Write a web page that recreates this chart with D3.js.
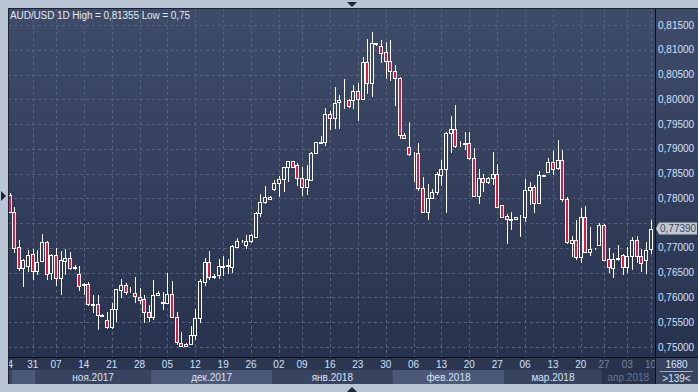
<!DOCTYPE html>
<html><head><meta charset="utf-8">
<script src="https://cdnjs.cloudflare.com/ajax/libs/d3/7.8.5/d3.min.js"></script>
<style>html,body{margin:0;padding:0;background:#b9c5d5;}svg{display:block;}</style>
</head><body>
<script>
const open  = [.7807,.7773,.7702,.7659,.7663,.7687,.7654,.7674,.7712,.7650,.7685,.7640,.7674,.7679,.7661,.7647,.7625,.7628,.7586,.7586,.7564,.7554,.7541,.7576,.7616,.7625,.7616,.7608,.7601,.7596,.7571,.7561,.7605,.7589,.7589,.7607,.7560,.7508,.7502,.7507,.7525,.7558,.7631,.7671,.7642,.7645,.7663,.7664,.7662,.7702,.7714,.7706,.7714,.7722,.7771,.7792,.7799,.7819,.7831,.7839,.7863,.7875,.7867,.7842,.7822,.7837,.7891,.7913,.7914,.7970,.7962,.7994,.7997,.7999,.7999,.8017,.8000,.8075,.8032,.8111,.8108,.8095,.8078,.8058,.8044,.7928,.7903,.7891,.7891,.7820,.7773,.7800,.7813,.7847,.7859,.7931,.7940,.7909,.7911,.7911,.7881,.7805,.7842,.7833,.7842,.7850,.7786,.7764,.7758,.7758,.7763,.7763,.7817,.7823,.7790,.7847,.7854,.7874,.7861,.7877,.7798,.7710,.7717,.7681,.7763,.7691,.7697,.7706,.7746,.7677,.7660,.7678,.7685,.7661,.7683,.7716,.7683,.7675,.7697];
const high  = [.7811,.7783,.7717,.7677,.7696,.7697,.7696,.7728,.7714,.7687,.7699,.7694,.7697,.7692,.7665,.7663,.7629,.7631,.7605,.7605,.7566,.7571,.7588,.7618,.7637,.7629,.7621,.7642,.7619,.7605,.7584,.7636,.7613,.7611,.7650,.7633,.7570,.7530,.7508,.7542,.7576,.7637,.7679,.7693,.7648,.7677,.7684,.7677,.7706,.7720,.7716,.7726,.7729,.7773,.7809,.7825,.7805,.7837,.7845,.7864,.7876,.7876,.7871,.7864,.7867,.7893,.7914,.7926,.7982,.7977,.8025,.8009,.8040,.8001,.8029,.8032,.8086,.8122,.81355,.8114,.8120,.8115,.8120,.8069,.8046,.7931,.7955,.7894,.7912,.7844,.7829,.7818,.7854,.7877,.7934,.7966,.7988,.7916,.7935,.7934,.7902,.7859,.7850,.7844,.7894,.7869,.7787,.7768,.7773,.7763,.7766,.7840,.7834,.7828,.7856,.7848,.7881,.7898,.7917,.7898,.7803,.7724,.7756,.7780,.7784,.7743,.7699,.7751,.7749,.7699,.7689,.7706,.7687,.7702,.7722,.7724,.7697,.7712,.7756];
const low   = [.7770,.7689,.7654,.7621,.7652,.7635,.7645,.7672,.7636,.7636,.7623,.7605,.7645,.7655,.7655,.7613,.7605,.7582,.7569,.7534,.7560,.7537,.7537,.7551,.7599,.7605,.7609,.7589,.7586,.7549,.7551,.7555,.7604,.7574,.7588,.7558,.7504,.7500,.7501,.7504,.7514,.7549,.7623,.7635,.7637,.7637,.7644,.7648,.7650,.7699,.7709,.7697,.7710,.7720,.7763,.7788,.7797,.7815,.7803,.7813,.7833,.7861,.7825,.7805,.7807,.7835,.7890,.7911,.7906,.7938,.7941,.7941,.7980,.7982,.7980,.7957,.7999,.8011,.8005,.8108,.8074,.8041,.8036,.7986,.7920,.7919,.7885,.7833,.7815,.7772,.7756,.7798,.7807,.7825,.7771,.7891,.7901,.7904,.7897,.7877,.7803,.7788,.7812,.7830,.7827,.7782,.7760,.7708,.7736,.7756,.7722,.7753,.7786,.7771,.7788,.7845,.7851,.7847,.7857,.7793,.7708,.7682,.7675,.7670,.7689,.7684,.7696,.7704,.7674,.7650,.7640,.7674,.7645,.7650,.7655,.7670,.7652,.7648,.7687];
const close = [.7773,.7699,.7659,.7675,.7685,.7654,.7672,.7712,.7648,.7685,.7640,.7675,.7679,.7659,.7660,.7623,.7627,.7586,.7585,.7564,.7563,.7541,.7576,.7617,.7625,.7611,.7615,.7603,.7594,.7571,.7561,.7605,.7608,.7590,.7606,.7560,.7510,.7503,.7506,.7525,.7558,.7633,.7671,.7642,.7643,.7663,.7662,.7665,.7704,.7714,.7713,.7714,.7726,.7771,.7792,.7802,.7803,.7832,.7840,.7863,.7875,.7864,.7842,.7822,.7839,.7891,.7913,.7912,.7970,.7962,.7993,.7999,.7996,.7986,.8017,.8000,.8075,.8032,.8113,.8113,.8094,.8078,.8058,.8044,.7928,.7922,.7889,.7892,.7820,.7773,.7800,.7812,.7849,.7859,.7931,.7940,.7906,.7910,.7910,.7881,.7805,.7842,.7833,.7842,.7850,.7783,.7763,.7758,.7757,.7762,.7762,.7817,.7823,.7790,.7847,.7846,.7874,.7859,.7877,.7798,.7712,.7717,.7681,.7763,.7691,.7697,.7698,.7746,.7675,.7662,.7677,.7679,.7661,.7683,.7716,.7683,.7670,.7696,.7739];

const weekIdx    = [-1,5,10,16,22,28,34,40,46,52,58,63,69,75,81,87,93,99,105,111,117,123,128,133,138];
const weekLabels = ["24","31","07","14","21","28","05","12","19","26","02","09","16","23","30","06","13","20","27","06","13","20","27","03","10"];
const monthStart  = [0.5,5.5,30.5,56.5,82.5,106.5,127.5];
const monthLabels = ["","ноя.2017","дек.2017","янв.2018","фев.2018","мар.2018","апр.2018"];
const priceTicks = [0.750,0.755,0.760,0.765,0.770,0.775,0.780,0.785,0.790,0.795,0.800,0.805,0.810,0.815];
const titleText = "AUD/USD 1D High = 0,81355 Low = 0,75";
const lastPrice = 0.7739;
const barCountText = ">139<";
const zoomText = "1680";

const W = 698, H = 392;
const L = 8, T = 8, R = 655, B = 357;
const FONT = "Liberation Sans, Arial, sans-serif";
const svg = d3.select("body").append("svg").attr("width", W).attr("height", H);
const defs = svg.append("defs");
const g1 = defs.append("linearGradient").attr("id","bg").attr("gradientUnits","userSpaceOnUse")
  .attr("x1",0).attr("y1",T).attr("x2",0).attr("y2",B);
g1.append("stop").attr("offset","0%").attr("stop-color","#3f4c69");
g1.append("stop").attr("offset","100%").attr("stop-color","#27324e");
defs.append("clipPath").attr("id","plotclip").append("rect").attr("x",L+1).attr("y",T+1).attr("width",R-L-1).attr("height",B-T-1);
defs.append("clipPath").attr("id","dateclip").append("rect").attr("x",L+1).attr("y",B).attr("width",R-L-1).attr("height",30);

const x = d3.scaleLinear().domain([0, 138]).range([9.5, 650.5]);
const y = d3.scaleLinear().domain([0.75, 0.815]).range([347, 25]);
const fmt = v => d3.format(".5f")(v).replace(".", ",");
const ly = y(lastPrice);

svg.append("rect").attr("width",W).attr("height",H).attr("fill","#b9c5d5");
svg.append("rect").attr("x",L).attr("y",T).attr("width",W-L).attr("height",B-T).attr("fill","url(#bg)");
svg.append("rect").attr("x",L).attr("y",B).attr("width",W-L).attr("height",13).attr("fill","#2b3651");
svg.append("rect").attr("x",L).attr("y",B+13).attr("width",W-L).attr("height",14).attr("fill","#38445f");

// grid
const grid = svg.append("g").attr("clip-path","url(#plotclip)").attr("stroke","#56637f").attr("stroke-dasharray","3,3").attr("shape-rendering","crispEdges");
grid.selectAll("line.h").data(priceTicks).join("line").attr("class","h")
  .attr("x1",L).attr("x2",R).attr("y1",d=>Math.round(y(d))+0.5).attr("y2",d=>Math.round(y(d))+0.5);
grid.selectAll("line.v").data(weekIdx).join("line").attr("class","v")
  .attr("x1",d=>Math.round(x(d))+0.5).attr("x2",d=>Math.round(x(d))+0.5).attr("y1",T).attr("y2",B);

// candles
const data = open.map((o,i)=>({i,o,h:high[i],l:low[i],c:close[i]}));
const cg = svg.append("g").attr("clip-path","url(#plotclip)").attr("shape-rendering","crispEdges");
const cand = cg.selectAll("g").data(data).join("g");
cand.append("line")
  .attr("x1",d=>Math.round(x(d.i))+0.5).attr("x2",d=>Math.round(x(d.i))+0.5)
  .attr("y1",d=>y(d.h)).attr("y2",d=>y(d.l)).attr("stroke","#ffffff").attr("stroke-width",1);
cand.append("rect")
  .attr("x",d=>Math.round(x(d.i))-1.5).attr("width",3)
  .attr("y",d=>Math.round(y(Math.max(d.o,d.c)))+0.5)
  .attr("height",d=>Math.max(0, Math.round(y(Math.min(d.o,d.c))) - Math.round(y(Math.max(d.o,d.c)))))
  .attr("fill",d=>d.c < d.o ? "#e2163f" : "url(#bg)")
  .attr("stroke","#ffffff").attr("stroke-width",1);

// frame lines
svg.append("line").attr("x1",R+0.5).attr("x2",R+0.5).attr("y1",T).attr("y2",B+27).attr("stroke","#0b101c");
svg.append("line").attr("x1",L).attr("x2",W).attr("y1",B+0.5).attr("y2",B+0.5).attr("stroke","#0b101c");
svg.append("line").attr("x1",L+0.5).attr("x2",L+0.5).attr("y1",T).attr("y2",B+27).attr("stroke","#1b2335");
svg.append("line").attr("x1",L).attr("x2",W).attr("y1",T+0.5).attr("y2",T+0.5).attr("stroke","#1b2335");

// price axis labels (the one under the last-price box is hidden, as in the reference)
svg.append("g").selectAll("text").data(priceTicks.filter(d => Math.abs(y(d)-ly) > 8)).join("text")
  .attr("x",658).attr("y",d=>y(d)+3.5).attr("fill","#cfe0ff")
  .attr("font-family",FONT).attr("font-size","10px").text(fmt);

// last price marker
svg.append("path").attr("d",`M${R+1},${ly} L${R+4},${ly-6} L${W-1},${ly-6} L${W-1},${ly+6} L${R+4},${ly+6} Z`).attr("fill","#c2c8d1");
svg.append("text").attr("x",660).attr("y",ly+3.5).attr("fill","#3a4660")
  .attr("font-family",FONT).attr("font-size","10px").text(fmt(lastPrice));

// month boxes & date labels
const mEnd = monthStart.slice(1).concat([138.95]);
const mg = svg.append("g").attr("clip-path","url(#dateclip)");
mg.selectAll("rect.mb").data(monthLabels).join("rect").attr("class","mb")
  .attr("x",(d,i)=>x(monthStart[i])).attr("width",(d,i)=>x(mEnd[i])-x(monthStart[i]))
  .attr("y",B+13).attr("height",14)
  .attr("fill",(d,i)=> i===6 ? "#28324c" : (i%2===0 ? "#4b5877" : "#38445f"));
mg.append("rect").attr("x",x(monthStart[6])).attr("width",R-x(monthStart[6])).attr("y",B+1).attr("height",12).attr("fill","#28324c");
mg.selectAll("text.m").data(monthLabels).join("text").attr("class","m")
  .attr("x",(d,i)=>(x(monthStart[i])+Math.min(x(mEnd[i]),R))/2).attr("y",B+23.5)
  .attr("text-anchor","middle").attr("fill",(d,i)=> i===6 ? "#66738f" : "#d7e3f7")
  .attr("font-family",FONT).attr("font-size","10px").text(d=>d);
mg.selectAll("text.w").data(weekLabels).join("text").attr("class","w")
  .attr("x",(d,i)=>Math.max(x(weekIdx[i]), 7.5)).attr("y",B+11).attr("text-anchor","middle")
  .attr("fill",(d,i)=> weekIdx[i] >= 128 ? "#76849f" : "#cfe0ff")
  .attr("font-family",FONT).attr("font-size","10px").text(d=>d);

// bottom-right box
svg.append("rect").attr("x",R+1).attr("y",B+1).attr("width",W-R-1).attr("height",26).attr("fill","#38445f");
svg.append("line").attr("x1",R+5).attr("x2",W-5).attr("y1",B+14.5).attr("y2",B+14.5).attr("stroke","#9fb0cc");
svg.append("text").attr("x",(R+W)/2).attr("y",B+11).attr("text-anchor","middle").attr("fill","#d8e4f8")
  .attr("font-family",FONT).attr("font-size","10px").text(zoomText);
svg.append("text").attr("x",(R+W)/2).attr("y",B+25).attr("text-anchor","middle").attr("fill","#d8e4f8")
  .attr("font-family",FONT).attr("font-size","10px").text(barCountText);

// title
svg.append("text").attr("x",10).attr("y",18.5).attr("fill","#e3e9f3")
  .attr("font-family",FONT).attr("font-size","10px").attr("letter-spacing","-0.1px").text(titleText);

// navigation triangles
svg.append("path").attr("d","M347,2 L357,2 L352,7 Z").attr("fill","#1c2333");
svg.append("path").attr("d","M347,392 L357,392 L352,387 Z").attr("fill","#1c2333");
svg.append("path").attr("d","M1,191 L1,201 L6,196 Z").attr("fill","#1c2333");
</script>
</body></html>
